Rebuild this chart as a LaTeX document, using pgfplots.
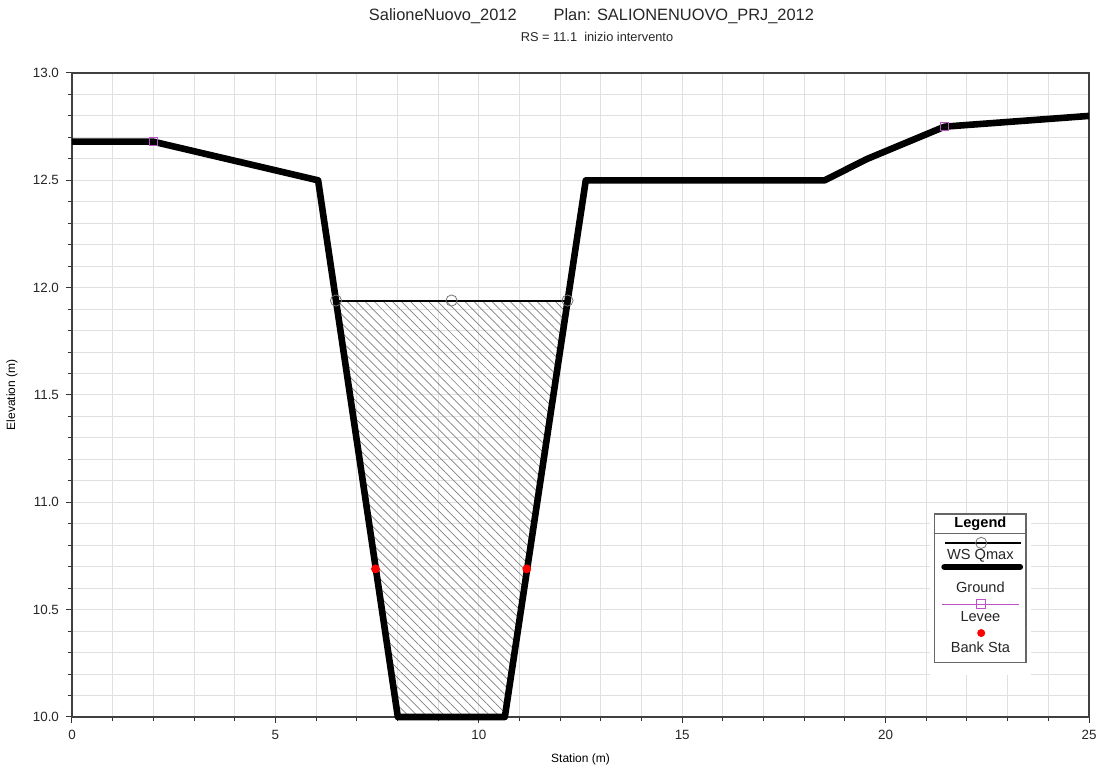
\documentclass[border=0pt]{standalone}
\usepackage{pgfplots}
\pgfplotsset{compat=1.18}
\usepackage{fontspec}
\setmainfont{Liberation Sans}
\usetikzlibrary{patterns.meta}
\definecolor{levee}{RGB}{190,80,200}
\begin{document}
\begin{tikzpicture}
\useasboundingbox (-36pt,-26pt) rectangle (513pt,358.5pt);
\begin{axis}[
  at={(0,0)}, anchor=south west,
  scale only axis, width=508.5pt, height=322pt,
  xmin=0, xmax=25, ymin=10, ymax=13,
  xtick={0,5,10,15,20,25}, ytick={10,10.5,11,11.5,12,12.5,13},
  minor x tick num=4, minor y tick num=4,
  grid=both,
  major grid style={draw=black!12, line width=0.5pt},
  minor grid style={draw=black!12, line width=0.5pt},
  tick align=outside, xtick pos=bottom, ytick pos=left,
  major tick length=3pt, minor tick length=2.2pt,
  every tick/.style={black!80, line width=0.5pt},
  /pgf/number format/assume math mode=true,
  yticklabel style={/pgf/number format/.cd, fixed, fixed zerofill, precision=1},
  ticklabel style={font=\fontsize{6.7}{8}\selectfont, text=black!85},
  axis line style={draw=black!75, line width=0.8pt},
  clip=false,
  xlabel={Station (m)}, ylabel={Elevation (m)},
  label style={font=\fontsize{6}{7}\selectfont},
  xlabel style={at={(axis description cs:0.5,-0.0714)}, anchor=base},
  ylabel style={at={(axis description cs:-0.059,0.5)}, anchor=center},
]
% hatched flow area
\addplot[draw=none, pattern={Lines[angle=-45,distance=3.2pt,line width=0.35pt]}, pattern color=black!50]
  coordinates {(6.49,11.94) (8.01,10.0) (10.64,10.0) (12.18,11.94)} -- cycle;
% WS Qmax
\addplot[black, line width=1pt, mark=none] coordinates {(6.49,11.94) (12.18,11.94)};
\addplot[black!55, only marks, mark=o, mark size=2.8pt, mark options={draw=black!55, line width=0.4pt}]
  coordinates {(6.49,11.94) (9.33,11.94) (12.18,11.94)};
% Ground
\addplot[black, line width=3.3pt, line join=round, mark=none]
  coordinates {(0,12.68) (2,12.68) (6.05,12.5) (8.01,10.0) (10.64,10.0) (12.63,12.5) (18.5,12.5) (19.55,12.6) (21.45,12.75) (25,12.8)};
% Levee
\addplot[levee, only marks, mark=square, mark size=2.1pt, mark options={draw=levee, fill=none, line width=0.6pt}]
  coordinates {(2,12.68) (21.45,12.75)};
% Bank Sta
\addplot[red, only marks, mark=*, mark size=2pt, mark options={draw=red, fill=red}]
  coordinates {(7.46,10.69) (11.18,10.69)};
% legend box
\fill[white] (21.09,10.196) rectangle (23.57,10.946);
\draw[black!60, line width=0.6pt] (21.21,10.252) rectangle (23.45,10.946);
\draw[black!60, line width=0.5pt] (21.21,10.853) -- (23.45,10.853);
\node[font=\bfseries\fontsize{7.3}{8}\selectfont] at (22.33,10.899) {Legend};
\draw[black, line width=1pt] (21.46,10.811) -- (23.33,10.811);
\node[circle, draw=black!55, line width=0.4pt, minimum size=5.6pt, inner sep=0pt] at (22.35,10.811) {};
\node[font=\fontsize{7.3}{8}\selectfont, text=black!85] at (22.33,10.750) {WS Qmax};
\draw[black, line width=3.3pt, line cap=round] (21.45,10.699) -- (23.3,10.699);
\node[font=\fontsize{7.3}{8}\selectfont, text=black!85] at (22.33,10.606) {Ground};
\draw[levee, line width=0.4pt] (21.39,10.526) -- (23.29,10.526);
\node[draw=levee, line width=0.5pt, minimum size=4.4pt, inner sep=0pt] at (22.35,10.526) {};
\node[font=\fontsize{7.3}{8}\selectfont, text=black!85] at (22.33,10.466) {Levee};
\node[circle, fill=red, minimum size=4pt, inner sep=0pt] at (22.35,10.391) {};
\node[font=\fontsize{7.3}{8}\selectfont, text=black!85] at (22.33,10.326) {Bank Sta};
\end{axis}
\node[anchor=base, font=\fontsize{8.2}{9}\selectfont, text=black!85] at (259.75pt,348pt)
  {SalioneNuovo\_2012\hspace{2.25em}Plan: SALIONENUOVO\_PRJ\_2012};
\node[anchor=base, font=\fontsize{6.4}{7}\selectfont, text=black!85] at (262.5pt,337.5pt)
  {RS = 11.1\ \ inizio intervento};
\end{tikzpicture}
\end{document}
